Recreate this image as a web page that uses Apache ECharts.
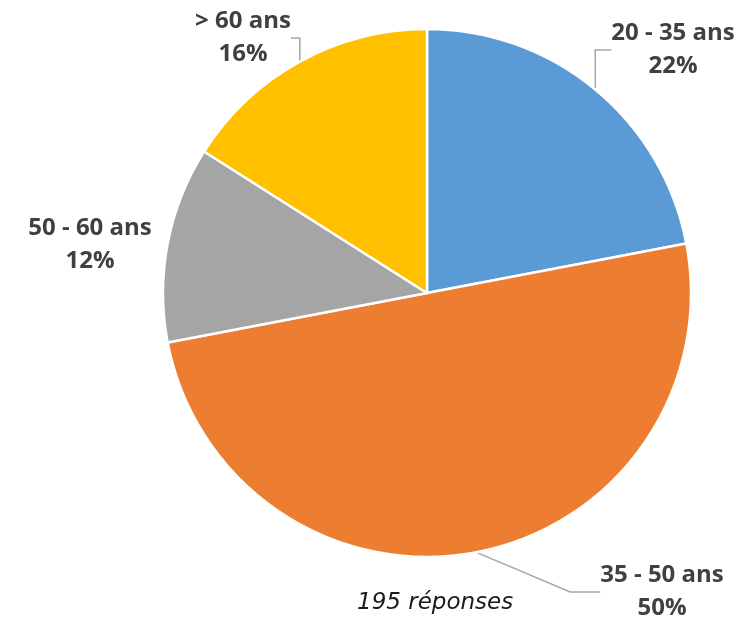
<!DOCTYPE html>
<html>
<head>
<meta charset="utf-8">
<script src="https://cdn.jsdelivr.net/npm/echarts@6/dist/echarts.min.js"></script>
<style>
  html, body { margin: 0; padding: 0; background: #fff; }
  #chart { width: 745px; height: 624px; }
</style>
</head>
<body>
<div id="chart"></div>
<script>
// tranches d'age et pourcentages
var categories = ['20 - 35 ans', '35 - 50 ans', '50 - 60 ans', '> 60 ans'];
var values = [22, 50, 12, 16];
var colors = ['#5B9BD5', '#ED7D31', '#A5A5A5', '#FFC000'];
var note = '195 réponses';

// position des étiquettes (placées à la main comme dans l'original)
var labelPos = [[673, 50], [662, 592], [90, 245], [243, 38]];

var chart = echarts.init(document.getElementById('chart'));

var option = {
    animation: false,
    graphic: [{
        type: 'text',
        left: 357,
        top: 592,
        style: {
            text: note,
            font: 'italic 23px "DejaVu Sans", sans-serif',
            fill: '#1a1a1a'
        }
    }],
    series: [{
        type: 'pie',
        center: [427, 293],
        radius: 264,
        startAngle: 90,
        clockwise: true,
        itemStyle: {
            borderColor: '#fff',
            borderWidth: 2.5
        },
        label: {
            show: true,
            position: 'outside',
            overflow: 'none',
            formatter: function (p) {
                return p.name + '\n' + p.value + '%';
            },
            fontFamily: 'Open Sans',
            fontWeight: 'bold',
            fontSize: 24,
            lineHeight: 33,
            color: '#404040',
            align: 'center'
        },
        labelLine: {
            show: true,
            lineStyle: { color: '#A6A6A6', width: 1.5 }
        },
        labelLayout: function (params) {
            var pos = labelPos[params.dataIndex];
            return {
                x: pos[0],
                y: pos[1],
                align: 'center',
                verticalAlign: 'middle'
            };
        },
        data: categories.map(function (c, i) {
            var d = { name: c, value: values[i], itemStyle: { color: colors[i] } };
            if (i === 2) d.labelLine = { show: false };
            return d;
        })
    }]
};

chart.setOption(option);
</script>
</body>
</html>
